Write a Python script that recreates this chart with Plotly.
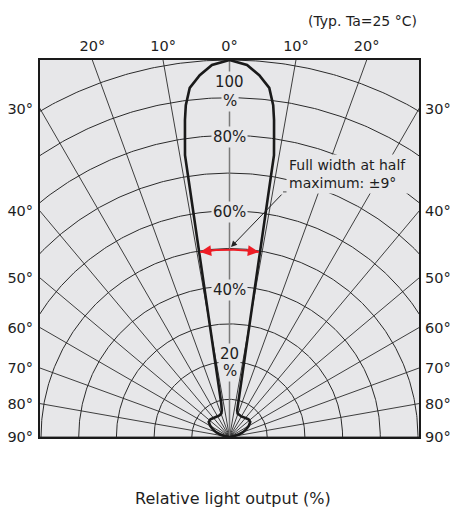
import numpy as np
import plotly.graph_objects as go

# ---------------- data ----------------
# half-curve (symmetric): angle from axis (deg) -> relative light output (%)
curve_angles = [0, 2.7, 4.7, 6.5, 7.5, 8.0, 8.45, 8.97, 9.04, 9.13, 9.26, 9.45, 9.7,
                10.07, 10.6, 11.4, 13.7, 16, 19, 25, 30, 40, 47, 54, 60, 65, 70, 75,
                80, 85, 90]
curve_values = [100, 98.8, 96.3, 93.2, 88.8, 84.9, 80.4, 75.7, 69.0, 61.0, 52.9, 44.9,
                36.9, 28.8, 22.1, 16.8, 9.3, 7.4, 6.6, 6.3, 6.3, 6.6, 6.9, 6.8, 5.9,
                4.9, 3.8, 2.6, 1.4, 0.5, 0]

grid_radii = [10, 20, 30, 40, 50, 60, 70, 80, 90, 100]
grid_angles = [-90, -80, -70, -60, -50, -40, -30, -20, -10, 10, 20, 30, 40, 50, 60, 70, 80, 90]

top_tick_angles = [-20, -10, 0, 10, 20]
top_tick_labels = ["20°", "10°", "0°", "10°", "20°"]
side_tick_angles = [30, 40, 50, 60, 70, 80, 90]
side_tick_labels = ["30°", "40°", "50°", "60°", "70°", "80°", "90°"]

pct_labels = ["100", "%", "80%", "60%", "40%", "20", "%"]
pct_label_pos = [94.1, 89.0, 79.6, 59.7, 39.0, 21.9, 17.6]

fwhm_angle = 9
fwhm_level = 49.7

# ---------------- geometry ----------------
XR = 50.27  # half width of the box in % units
BG = "#e7e7e9"
TXT = "#1e1e1e"
FONT = "DejaVu Sans"

def pol(r, a):
    a = np.radians(a)
    return r * np.sin(a), r * np.cos(a)

fig = go.Figure()

# arcs
ax_, ay_ = [], []
t = np.linspace(-90, 90, 361)
for r in grid_radii:
    x, y = pol(r, t)
    ax_ += list(x) + [None]
    ay_ += list(y) + [None]
fig.add_trace(go.Scatter(x=ax_, y=ay_, mode="lines", line=dict(color="#2a2a2a", width=1),
                         hoverinfo="skip", showlegend=False))
# radial lines
rx, ry = [], []
for a in grid_angles:
    x, y = pol(200, a)
    rx += [0, x, None]
    ry += [0, y, None]
fig.add_trace(go.Scatter(x=rx, y=ry, mode="lines", line=dict(color="#2a2a2a", width=0.9),
                         hoverinfo="skip", showlegend=False))
# centre line (0 deg)
fig.add_trace(go.Scatter(x=[0, 0], y=[0, 100], mode="lines", line=dict(color="#7a7a7a", width=1.5),
                         hoverinfo="skip", showlegend=False))

# directivity curve
full_a = [-a for a in reversed(curve_angles)] + curve_angles[1:]
full_r = list(reversed(curve_values)) + curve_values[1:]
cx, cy = pol(np.array(full_r), np.array(full_a))
fig.add_trace(go.Scatter(x=cx, y=cy, mode="lines", line=dict(color="#1a1a1a", width=2.6),
                         hoverinfo="skip", showlegend=False))

# red FWHM arc
ta = np.linspace(-fwhm_angle, fwhm_angle, 60)
fx, fy = pol(fwhm_level, ta)
fig.add_trace(go.Scatter(x=fx, y=fy, mode="lines", line=dict(color="#ee1c25", width=2),
                         hoverinfo="skip", showlegend=False))

# invisible trace for right axis
fig.add_trace(go.Scatter(x=[0], y=[0], yaxis="y2", mode="markers", marker=dict(opacity=0),
                         hoverinfo="skip", showlegend=False))

ann = []
for s in (-1, 1):
    hx, hy = pol(fwhm_level, s * fwhm_angle)
    tx, ty = pol(fwhm_level, s * (fwhm_angle - 4))
    ann.append(dict(x=hx, y=hy, ax=tx, ay=ty, xref="x", yref="y", axref="x", ayref="y",
                    text="", showarrow=True, arrowhead=2, arrowsize=1.1, arrowwidth=2,
                    arrowcolor="#ee1c25", standoff=0))

for txt, yv in zip(pct_labels, pct_label_pos):
    ann.append(dict(x=0, y=yv, xref="x", yref="y", text=txt, showarrow=False,
                    font=dict(family=FONT, size=15, color=TXT), bgcolor=BG, borderpad=1))

# FWHM text
ann.append(dict(x=14.9, y=69.8, xref="x", yref="y", xanchor="left", align="left",
                text="Full width at half<br>maximum: ±9°", showarrow=False,
                font=dict(family=FONT, size=14, color=TXT), bgcolor=BG, borderpad=2))
# leader arrow
ann.append(dict(x=0.4, y=50.4, ax=14.2, ay=64.7, xref="x", yref="y", axref="x", ayref="y",
                text="", showarrow=True, arrowhead=2, arrowsize=1.2, arrowwidth=1,
                arrowcolor="#222222", standoff=0))

ann.append(dict(x=1.0, y=1.103, xref="paper", yref="paper", xanchor="right", yanchor="middle",
                text="(Typ. Ta=25 °C)", showarrow=False, font=dict(family=FONT, size=14, color=TXT)))
ann.append(dict(x=0.508, y=-0.162, xref="paper", yref="paper", xanchor="center", yanchor="middle",
                text="Relative light output (%)", showarrow=False,
                font=dict(family=FONT, size=16, color=TXT)))

shapes = [dict(type="line", xref="x", yref="y", x0=14.2, y0=65.0, x1=47.3, y1=65.0,
               line=dict(color="#6a6a6a", width=1.2))]

top_vals = [100 * np.tan(np.radians(a)) for a in top_tick_angles]
side_vals = [XR / np.tan(np.radians(a)) for a in side_tick_angles]

tickfont = dict(family=FONT, size=14.5, color=TXT)
fig.update_layout(
    width=451, height=511,
    margin=dict(l=40, r=32, t=60, b=74, autoexpand=False),
    paper_bgcolor="white", plot_bgcolor=BG,
    showlegend=False,
    xaxis=dict(range=[-XR, XR], side="top", tickvals=top_vals, ticktext=top_tick_labels,
               showgrid=False, zeroline=False, showline=True, mirror=True, linecolor="#1a1a1a",
               linewidth=2, ticks="", ticklabelstandoff=1, tickfont=tickfont, fixedrange=True,
               automargin=False),
    yaxis=dict(range=[0, 100], tickvals=side_vals, ticktext=side_tick_labels,
               showgrid=False, zeroline=False, showline=True, mirror=True, linecolor="#1a1a1a",
               linewidth=2, ticks="", ticklabelstandoff=2, tickfont=tickfont, fixedrange=True,
               automargin=False),
    yaxis2=dict(range=[0, 100], overlaying="y", side="right", tickvals=side_vals,
                ticktext=side_tick_labels, showgrid=False, zeroline=False, showline=False,
                ticks="", ticklabelstandoff=5, tickfont=tickfont, fixedrange=True,
                automargin=False),
    annotations=ann, shapes=shapes,
)

fig.write_html("out.html", config={"displayModeBar": False},
               post_script="document.body.style.margin='0';document.body.style.overflow='hidden';")
